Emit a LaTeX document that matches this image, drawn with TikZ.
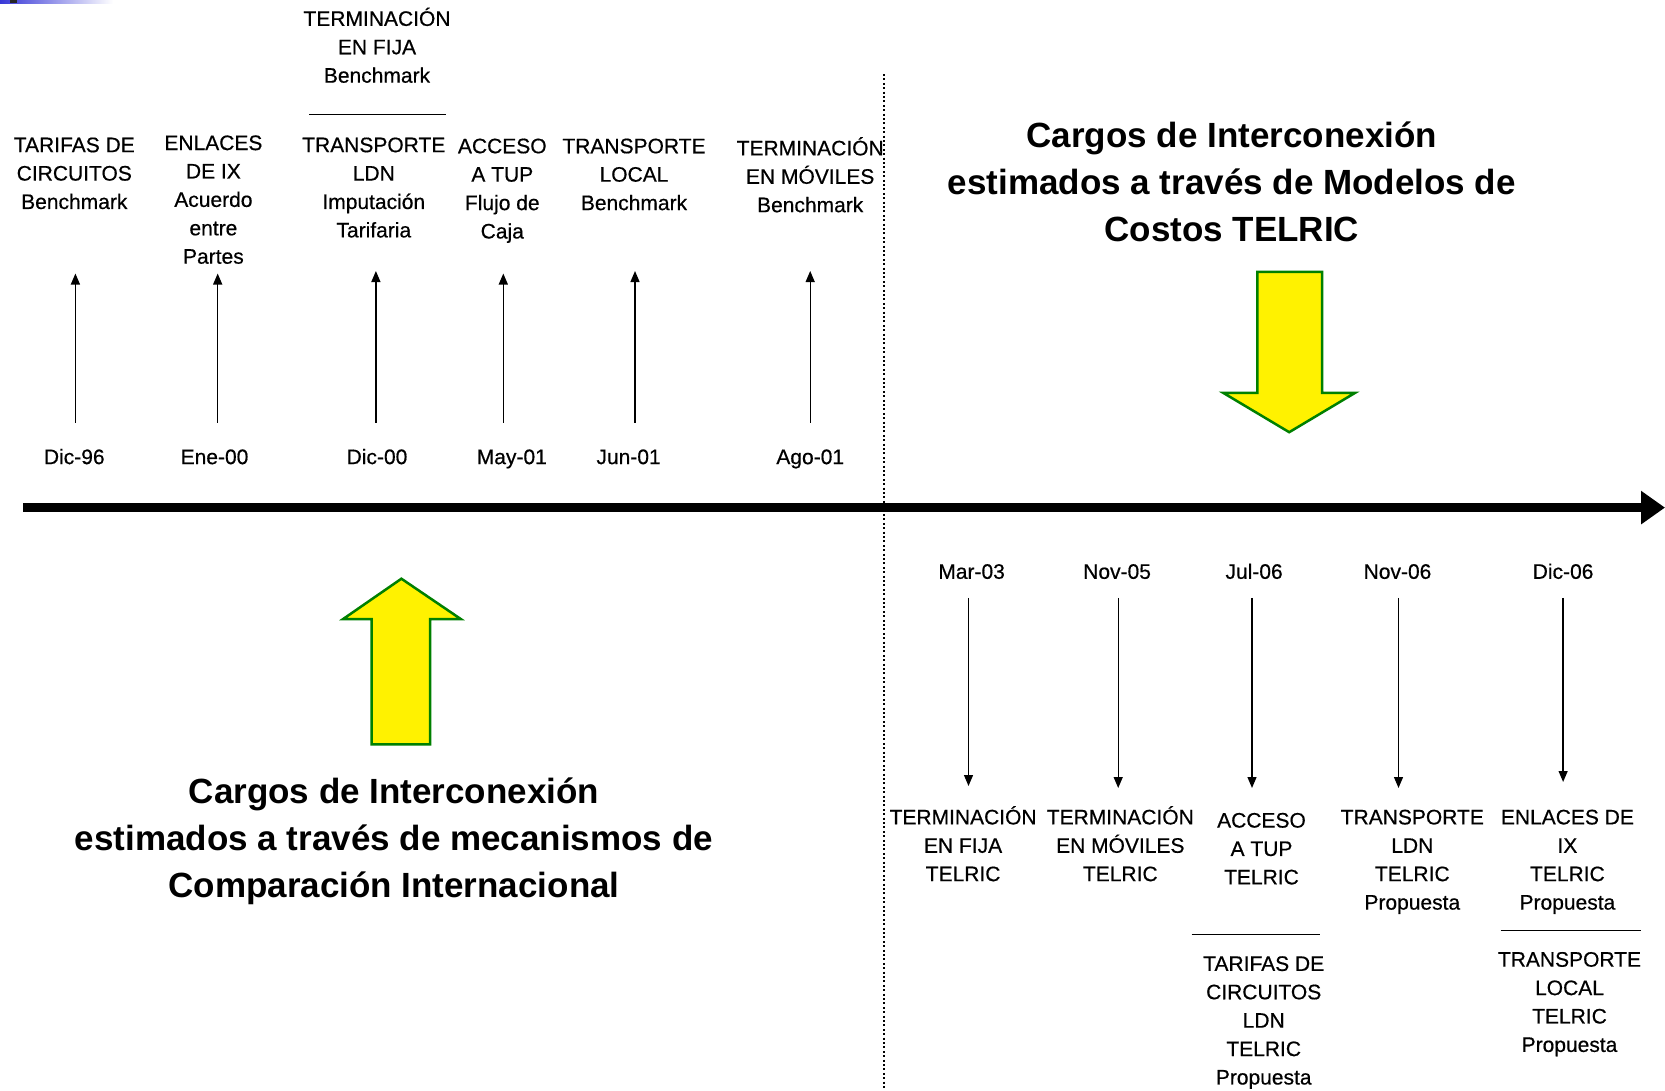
\documentclass[tikz,border=0pt]{standalone}
\usepackage{fontspec}
\setmainfont{Liberation Sans}
\newfontfamily\lblfont[FakeBold=0.5]{Liberation Sans}
\usetikzlibrary{arrows.meta}
\definecolor{arrgreen}{RGB}{0,128,0}
\definecolor{barblue}{RGB}{55,55,215}
\begin{document}
\begin{tikzpicture}[x=1pt,y=-1pt,
  lbl/.style={anchor=north, align=center, inner sep=0pt, font=\lblfont\fontsize{21}{28.4}\selectfont},
  datelbl/.style={anchor=base, inner sep=0pt, font=\lblfont\fontsize{21}{25}\selectfont},
  titlelbl/.style={anchor=north, align=center, inner sep=0pt, font=\fontsize{35}{46.9}\selectfont\bfseries},
  tick/.style={line width=1.3pt, -{Triangle[length=11pt,width=9pt]}},
  sepline/.style={line width=1.2pt},
  bigarrow/.style={fill=yellow, draw=arrgreen, line width=2.5pt, line join=miter},
  divider/.style={line width=2pt, dash pattern=on 2pt off 2.4pt}
]
\useasboundingbox (0,0) rectangle (1665,1090);
\fill[white] (0,0) rectangle (1665,1090);

% header remnant
\shade[left color=barblue, right color=white] (0,0) rectangle (113,3);
\fill[black!85] (10,0) rectangle (17,3);

% divider
\coordinate (dv0) at (883.5,74);
\coordinate (dv1) at (883.5,1090);
\draw[divider] (dv0) -- (dv1);

% timeline
\coordinate (tl0) at (23,507.6);
\coordinate (tl1) at (1665,507.6);
\draw[line width=9pt, -{Triangle[length=24pt,width=32pt]}] (tl0) -- (tl1);

% ---- upper labels
\node[lbl] (lA) at (74.3,132.1) {\strut TARIFAS DE\\CIRCUITOS\\Benchmark};
\node[lbl] (lB) at (213.4,130.0) {\strut ENLACES\\DE IX\\Acuerdo\\entre\\Partes};
\node[lbl] (lC0) at (377,5.8) {\strut TERMINACIÓN\\EN FIJA\\Benchmark};
\node[lbl] (lC) at (373.8,132.1) {\strut TRANSPORTE\\LDN\\Imputación\\Tarifaria};
\node[lbl] (lD) at (502.3,133.2) {\strut ACCESO\\A TUP\\Flujo de\\Caja};
\node[lbl] (lE) at (634,133.2) {\strut TRANSPORTE\\LOCAL\\Benchmark};
\node[lbl] (lF) at (810.2,135.3) {\strut TERMINACIÓN\\EN MÓVILES\\Benchmark};

\coordinate (sA0) at (309,114.7);
\coordinate (sA1) at (446,114.7);
\draw[sepline] (sA0) -- (sA1);

% upper dates
\node[datelbl] (dA) at (74.3,464.1) {Dic-96};
\node[datelbl] (dB) at (214.5,464.1) {Ene-00};
\node[datelbl] (dC) at (377,464.1) {Dic-00};
\node[datelbl] (dD) at (511.8,464.1) {May-01};
\node[datelbl] (dE) at (628.6,464.1) {Jun-01};
\node[datelbl] (dF) at (810.2,464.1) {Ago-01};

% upper ticks
\coordinate (aA0) at (75.4,422.6);  \coordinate (aA1) at (75.4,273.5);
\coordinate (aB0) at (217.7,422.6); \coordinate (aB1) at (217.7,273.5);
\coordinate (aC0) at (375.9,422.6); \coordinate (aC1) at (375.9,271);
\coordinate (aD0) at (503.3,422.6); \coordinate (aD1) at (503.3,273.5);
\coordinate (aE0) at (635,422.6);   \coordinate (aE1) at (635,271);
\coordinate (aF0) at (810.2,422.6); \coordinate (aF1) at (810.2,271);
\draw[tick] (aA0) -- (aA1);
\draw[tick] (aB0) -- (aB1);
\draw[tick] (aC0) -- (aC1);
\draw[tick] (aD0) -- (aD1);
\draw[tick] (aE0) -- (aE1);
\draw[tick] (aF0) -- (aF1);

% ---- lower dates
\node[datelbl] (dG) at (971.6,578.8) {Mar-03};
\node[datelbl] (dH) at (1117.1,578.8) {Nov-05};
\node[datelbl] (dI) at (1254.1,578.8) {Jul-06};
\node[datelbl] (dJ) at (1397.5,578.8) {Nov-06};
\node[datelbl] (dK) at (1563.1,578.8) {Dic-06};

% lower ticks
\coordinate (bG0) at (968.5,597.8);  \coordinate (bG1) at (968.5,786);
\coordinate (bH0) at (1118.2,597.8); \coordinate (bH1) at (1118.2,788);
\coordinate (bI0) at (1252,597.8);   \coordinate (bI1) at (1252,788);
\coordinate (bJ0) at (1398.5,597.8); \coordinate (bJ1) at (1398.5,788);
\coordinate (bK0) at (1563.1,597.8); \coordinate (bK1) at (1563.1,782);
\draw[tick] (bG0) -- (bG1);
\draw[tick] (bH0) -- (bH1);
\draw[tick] (bI0) -- (bI1);
\draw[tick] (bJ0) -- (bJ1);
\draw[tick] (bK0) -- (bK1);

% lower labels
\node[lbl] (lG) at (963.1,804.3) {\strut TERMINACIÓN\\EN FIJA\\TELRIC};
\node[lbl] (lH) at (1120.3,804.3) {\strut TERMINACIÓN\\EN MÓVILES\\TELRIC};
\node[lbl] (lI) at (1261.5,807.5) {\strut ACCESO\\A TUP\\TELRIC};
\node[lbl] (lJ) at (1412.3,804.3) {\strut TRANSPORTE\\LDN\\TELRIC\\Propuesta};
\node[lbl] (lK) at (1567.4,804.3) {\strut ENLACES DE\\IX\\TELRIC\\Propuesta};

\coordinate (sB0) at (1191.5,934.5);
\coordinate (sB1) at (1320,934.5);
\draw[sepline] (sB0) -- (sB1);
\node[lbl] (lL) at (1263.7,950.8) {\strut TARIFAS DE\\CIRCUITOS\\LDN\\TELRIC\\Propuesta};

\coordinate (sC0) at (1500.5,930.2);
\coordinate (sC1) at (1640.6,930.2);
\draw[sepline] (sC0) -- (sC1);
\node[lbl] (lM) at (1569.5,946.6) {\strut TRANSPORTE\\LOCAL\\TELRIC\\Propuesta};

% ---- titles
\node[titlelbl] (tR) at (1231.8,114.7) {\strut Cargos de Interconexión\\estimados a través de Modelos de\\Costos TELRIC};
\node[titlelbl] (tL) at (394,770.9) {\strut Cargos de Interconexión\\estimados a través de mecanismos de\\Comparación Internacional};

% ---- big yellow arrows
\draw[bigarrow] (1257.3,271.8) -- (1322.1,271.8) -- (1322.1,392.9) -- (1355,392.9)
  -- (1289.2,432.2) -- (1223.3,392.9) -- (1257.3,392.9) -- cycle;
\draw[bigarrow] (401.4,578.7) -- (460.9,619.1) -- (430.1,619.1) -- (430.1,744.4)
  -- (371.7,744.4) -- (371.7,619.1) -- (343,619.1) -- cycle;
\end{tikzpicture}
\end{document}
